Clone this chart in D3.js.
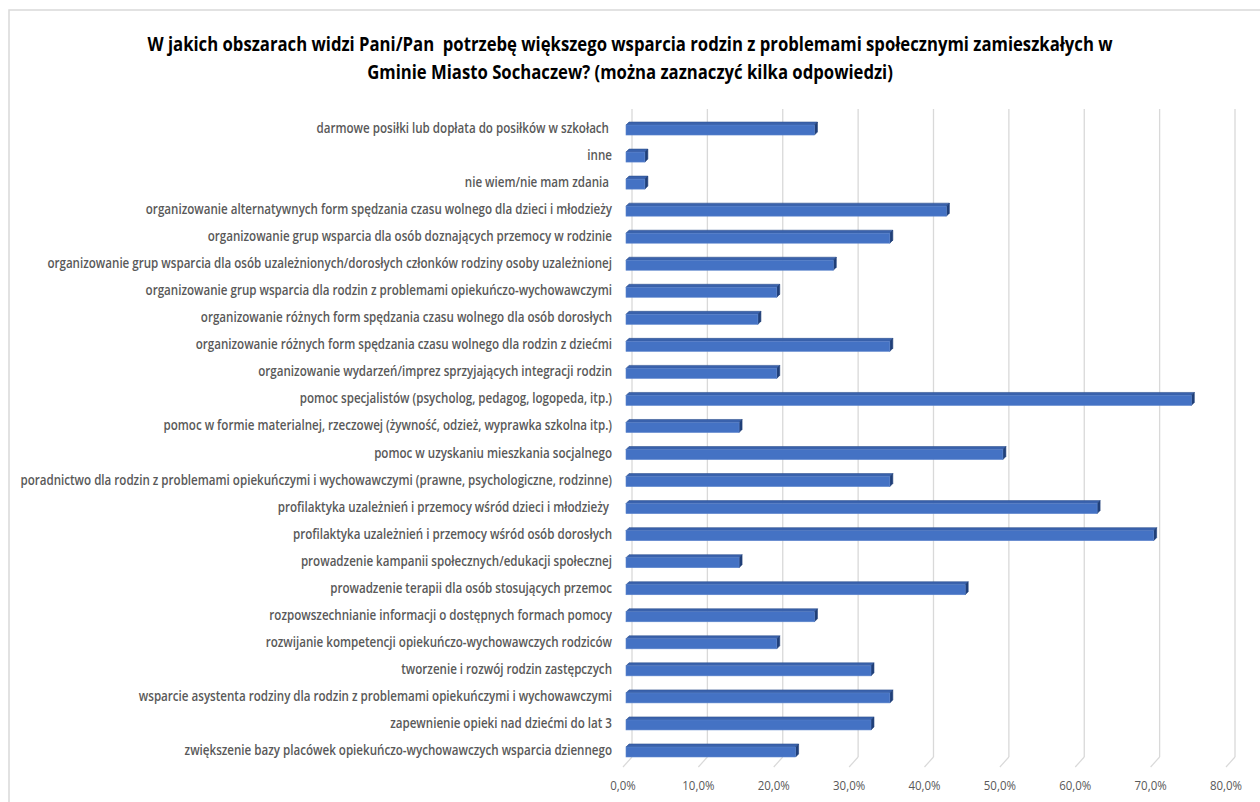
<!DOCTYPE html>
<html>
<head>
<meta charset="utf-8">
<script src="https://cdn.jsdelivr.net/npm/d3@7"></script>
<style>
  html, body { margin: 0; padding: 0; background: #fff; }
  svg { display: block; }
</style>
</head>
<body>
<svg id="chart" width="1260" height="802"></svg>
<script>
const titleLines = [
  "W jakich obszarach widzi Pani/Pan  potrzebę większego wsparcia rodzin z problemami społecznymi zamieszkałych w",
  "Gminie Miasto Sochaczew? (można zaznaczyć kilka odpowiedzi)"
];
const categories = [
  "darmowe posiłki lub dopłata do posiłków w szkołach ",
  "inne",
  "nie wiem/nie mam zdania ",
  "organizowanie alternatywnych form spędzania czasu wolnego dla dzieci i młodzieży",
  "organizowanie grup wsparcia dla osób doznających przemocy w rodzinie",
  "organizowanie grup wsparcia dla osób uzależnionych/dorosłych członków rodziny osoby uzależnionej",
  "organizowanie grup wsparcia dla rodzin z problemami opiekuńczo-wychowawczymi",
  "organizowanie różnych form spędzania czasu wolnego dla osób dorosłych",
  "organizowanie różnych form spędzania czasu wolnego dla rodzin z dziećmi",
  "organizowanie wydarzeń/imprez sprzyjających integracji rodzin",
  "pomoc specjalistów (psycholog, pedagog, logopeda, itp.)",
  "pomoc w formie materialnej, rzeczowej (żywność, odzież, wyprawka szkolna itp.)",
  "pomoc w uzyskaniu mieszkania socjalnego",
  "poradnictwo dla rodzin z problemami opiekuńczymi i wychowawczymi (prawne, psychologiczne, rodzinne)",
  "profilaktyka uzależnień i przemocy wśród dzieci i młodzieży ",
  "profilaktyka uzależnień i przemocy wśród osób dorosłych",
  "prowadzenie kampanii społecznych/edukacji społecznej",
  "prowadzenie terapii dla osób stosujących przemoc",
  "rozpowszechnianie informacji o dostępnych formach pomocy",
  "rozwijanie kompetencji opiekuńczo-wychowawczych rodziców",
  "tworzenie i rozwój rodzin zastępczych",
  "wsparcie asystenta rodziny dla rodzin z problemami opiekuńczymi i wychowawczymi",
  "zapewnienie opieki nad dziećmi do lat 3",
  "zwiększenie bazy placówek opiekuńczo-wychowawczych wsparcia dziennego"
];
const values = [25.0, 2.5, 2.5, 42.5, 35.0, 27.5, 20.0, 17.5, 35.0, 20.0, 75.0, 15.0, 50.0, 35.0, 62.5, 70.0, 15.0, 45.0, 25.0, 20.0, 32.5, 35.0, 32.5, 22.5];
const tickValues = [0, 10, 20, 30, 40, 50, 60, 70, 80];
const tickLabels = ["0,0%", "10,0%", "20,0%", "30,0%", "40,0%", "50,0%", "60,0%", "70,0%", "80,0%"];

const svg = d3.select("#chart");
const FONT = "'Open Sans', 'Noto Sans', sans-serif";

// chart border
svg.append("rect").attr("x", 9).attr("y", 10).attr("width", 1300).attr("height", 900)
  .attr("fill", "none").attr("stroke", "#d9d9d9").attr("stroke-width", 1.5);

const d = 3, wallOff = 6;
const x = d3.scaleLinear().domain([0, 80]).range([626, 1229]);
const y = d3.scaleBand().domain(categories).range([114.5, 763.5]);

// title (narrowed horizontally to mimic the condensed original face)
const tl = svg.append("g").selectAll("text").data(titleLines).join("text")
  .attr("x", 0).attr("y", 0)
  .attr("text-anchor", "middle")
  .attr("font-family", FONT).attr("font-weight", "bold").attr("font-size", 19)
  .attr("fill", "#000")
  .attr("xml:space", "preserve")
  .text(t => t);
{
  const w = tl.nodes()[0].getComputedTextLength();
  const sx = 966 / w;
  tl.attr("transform", (t, i) => `translate(630,${51 + i * 28}) scale(${sx},1)`);
}

// back wall gridlines
const grid = svg.append("g");
grid.selectAll("line.v").data(tickValues).join("line")
  .attr("class", "v")
  .attr("x1", v => x(v) + wallOff).attr("x2", v => x(v) + wallOff)
  .attr("y1", 109).attr("y2", 757)
  .attr("stroke", "#d9d9d9").attr("stroke-width", 1.3);
grid.selectAll("line.f").data(tickValues).join("line")
  .attr("class", "f")
  .attr("x1", v => x(v) + wallOff).attr("x2", v => x(v) - 3)
  .attr("y1", 757).attr("y2", 767)
  .attr("stroke", "#d9d9d9").attr("stroke-width", 1.2);

// axis tick labels
const tk = svg.append("g").selectAll("text").data(tickValues).join("text")
  .attr("x", 0).attr("y", 0)
  .attr("text-anchor", "middle")
  .attr("font-family", FONT).attr("font-size", 13.5)
  .attr("fill", "#595959")
  .text((v, i) => tickLabels[i])
  .attr("transform", v => `translate(${x(v) - 3},790) scale(0.85,1)`);

// category labels
const labels = svg.append("g").selectAll("text").data(categories).join("text")
  .attr("x", 0).attr("y", 0)
  .attr("text-anchor", "end")
  .attr("font-family", FONT).attr("font-size", 13.5).attr("font-weight", 600)
  .attr("fill", "#595959")
  .attr("xml:space", "preserve")
  .text(c => c);
{
  const longest = labels.nodes()[13].getComputedTextLength();
  const sx = 592 / longest;
  labels.attr("transform", c => `translate(612,${y(c) + y.bandwidth() / 2 + 5}) scale(${sx},1)`);
}

// bars (3-D boxes)
const bars = svg.append("g").selectAll("g").data(categories.map((c, i) => ({c, v: values[i]}))).join("g");
bars.each(function(dd) {
  const g = d3.select(this);
  const x0 = x(0), x1 = x(dd.v);
  const yc = y(dd.c) + y.bandwidth() / 2;
  const yT = yc - 3, yB = yc + 7;
  g.append("path")
    .attr("d", `M${x0},${yT} L${x0 + d},${yT - d} L${x1 + d},${yT - d} L${x1},${yT} Z`)
    .attr("fill", "#3a62ad").attr("stroke", "#2f528f").attr("stroke-width", 0.6);
  g.append("path")
    .attr("d", `M${x1},${yT} L${x1 + d},${yT - d} L${x1 + d},${yB - d} L${x1},${yB} Z`)
    .attr("fill", "#203f78").attr("stroke", "#203f78").attr("stroke-width", 0.6);
  g.append("rect")
    .attr("x", x0).attr("y", yT).attr("width", x1 - x0).attr("height", yB - yT)
    .attr("fill", "#4472c4").attr("stroke", "#5b84cc").attr("stroke-width", 0.6);
});
</script>
</body>
</html>
